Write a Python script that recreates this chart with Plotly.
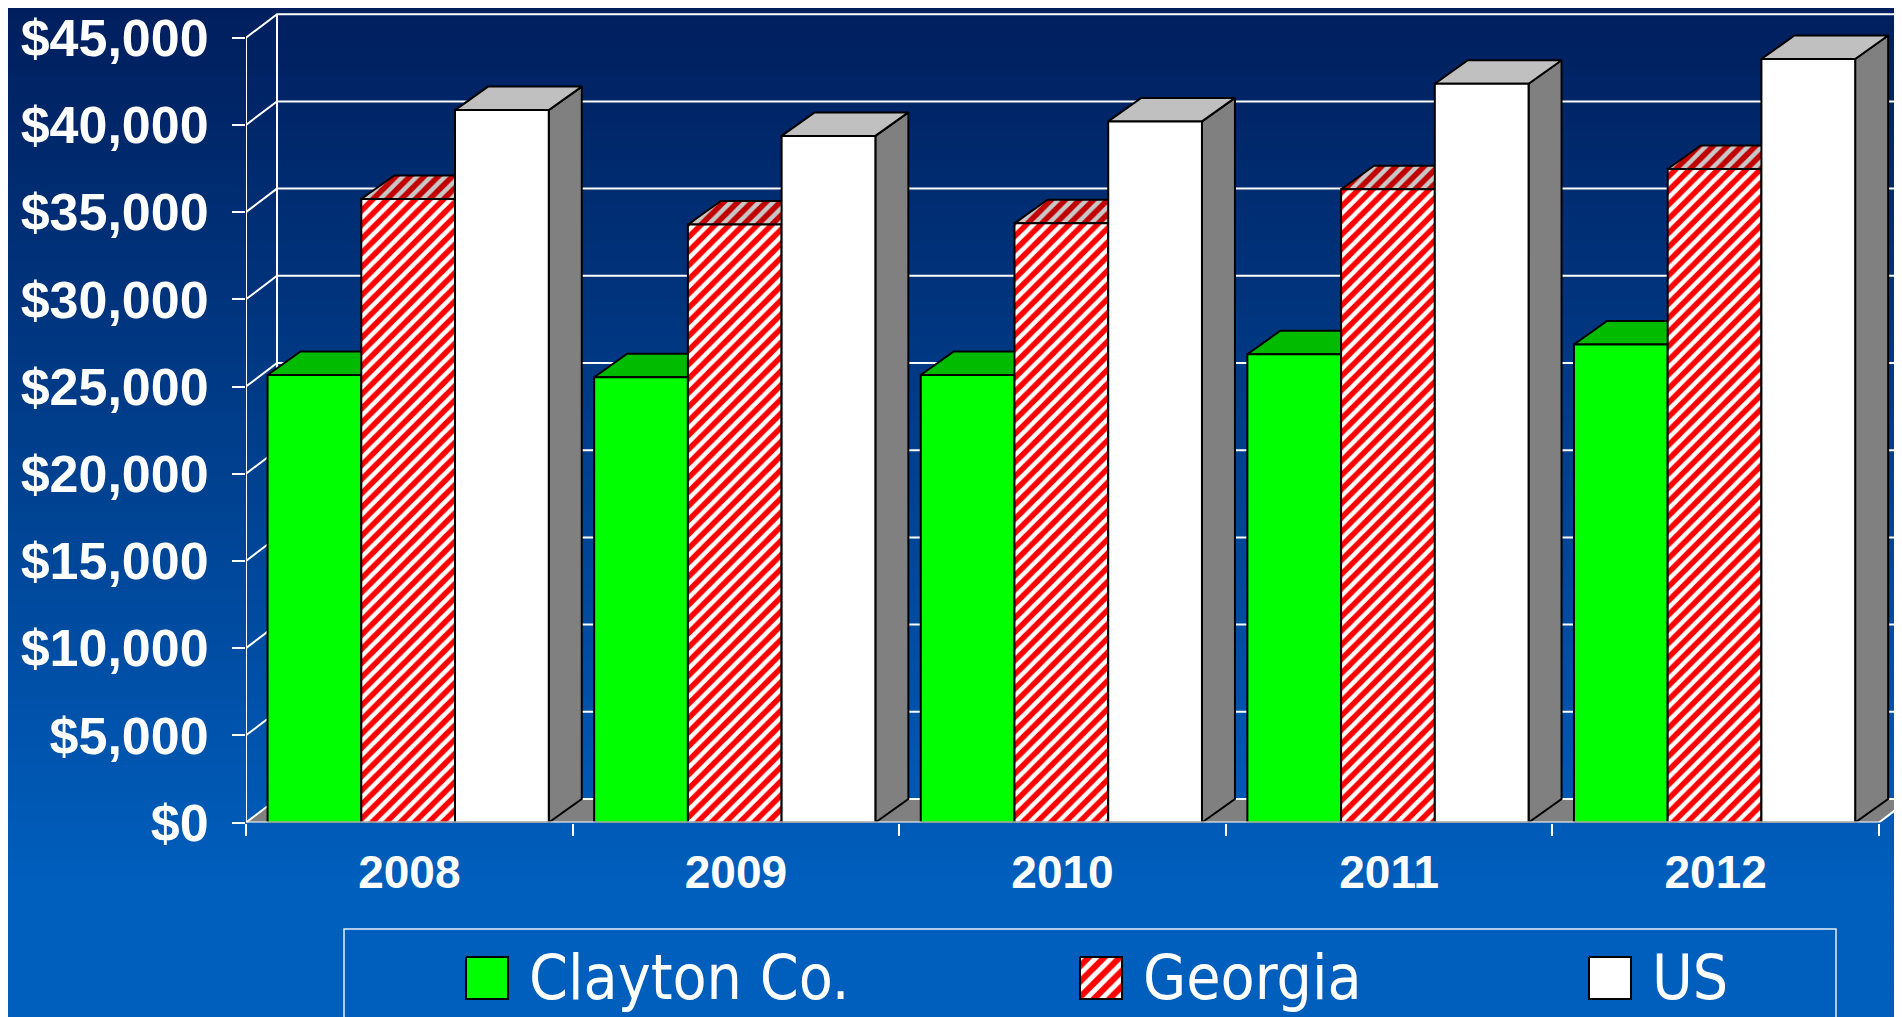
import plotly.graph_objects as go

# ---------------- data ----------------
years = ["2008", "2009", "2010", "2011", "2012"]
clayton = [25660, 25530, 25660, 26850, 27410]
georgia = [35750, 34290, 34360, 36310, 37470]
us = [40850, 39370, 40200, 42360, 43780]
series_names = ["Clayton Co.", "Georgia", "US"]
y_tick_vals = [0, 5000, 10000, 15000, 20000, 25000, 30000, 35000, 40000, 45000]
y_tick_text = ["$0", "$5,000", "$10,000", "$15,000", "$20,000",
               "$25,000", "$30,000", "$35,000", "$40,000", "$45,000"]

# ---------------- geometry / style ----------------
W, H = 1902, 1017
OFF = 8                # page body margin (figure starts 8px in)
X0_PX = 246.0          # viewport pixel of front category axis start
CAT_PX = 326.6         # pixels per category
Y0_PX = 822.5          # viewport pixel row of value 0
PX_PER_UNIT = 0.01744  # pixels per dollar
XMAX = (W - (X0_PX - OFF)) / CAT_PX
YMAX = (Y0_PX - OFF) / PX_PER_UNIT
DXW = 31 / CAT_PX      # wall depth (x)
DXB = 33 / CAT_PX      # bar depth (x)
DY = 23.5 / PX_PER_UNIT  # depth rise (value units)
BAR_OFF = 0.066
BAR_W = 0.287
NCAT = len(years)


def px_x(v):
    return (v - OFF) / W


def px_y(v):
    return 1 - (v - OFF) / H


FONT = "Liberation Sans, Arial, Helvetica, sans-serif"
NARROW = "Liberation Sans Narrow, Arial Narrow, DejaVu Sans Condensed, sans-serif"

styles = [
    dict(front="#00ff00", top="#00bb00", side="#008800", pat=None, tpat=None),
    dict(front="#ff0000", top="#c00000", side="#800000",
         pat=dict(shape="/", bgcolor="#ff0000", fgcolor="#ffffff", size=10, solidity=0.45, fillmode="replace"),
         tpat=dict(shape="/", bgcolor="#c00000", fgcolor="#c8c8c8", size=10, solidity=0.45, fillmode="replace")),
    dict(front="#ffffff", top="#c0c0c0", side="#808080", pat=None, tpat=None),
]

fig = go.Figure()

# ---------------- background gradient ----------------
top_c = (0, 30, 92)
bot_c = (0, 94, 188)
grad_end = 880
nb = 110
shapes = []
for k in range(nb):
    y_a = k * (H + OFF) / nb
    y_b = (k + 1) * (H + OFF) / nb + 1
    t = min(1.0, (y_a + (H + OFF) / nb / 2) / grad_end)
    c = tuple(int(round(top_c[j] + (bot_c[j] - top_c[j]) * t)) for j in range(3))
    shapes.append(dict(type="rect", xref="paper", yref="paper", layer="below",
                       x0=-0.01, x1=1.01, y0=px_y(y_b), y1=px_y(y_a),
                       line=dict(width=0), fillcolor="rgb(%d,%d,%d)" % c))

# ---------------- floor ----------------
fig.add_trace(go.Scatter(x=[0, NCAT, NCAT + DXW, DXW, 0], y=[0, 0, DY, DY, 0],
                         fill="toself", fillcolor="#808080", mode="none",
                         hoverinfo="skip", showlegend=False))

# ---------------- walls gridlines ----------------
gx, gy = [], []
for v in y_tick_vals:
    gx += [0, DXW, XMAX + 1, None]
    gy += [v, v + DY, v + DY, None]
gx += [DXW, DXW, None, 0, 0, None]
gy += [DY, y_tick_vals[-1] + DY, None, 0, y_tick_vals[-1], None]
fig.add_trace(go.Scatter(x=gx, y=gy, mode="lines", line=dict(color="white", width=2),
                         hoverinfo="skip", showlegend=False))

# ---------------- 3D bars ----------------
series = [clayton, georgia, us]
for i in range(NCAT):
    for s, vals in enumerate(series):
        st = styles[s]
        h = vals[i]
        x0 = i + BAR_OFF + s * BAR_W
        x1 = x0 + BAR_W
        # side
        fig.add_trace(go.Scatter(x=[x1, x1, x1 + DXB, x1 + DXB, x1], y=[0, h, h + DY, DY, 0],
                                 fill="toself", fillcolor=st["side"], mode="lines",
                                 line=dict(color="black", width=2),
                                 hoverinfo="skip", showlegend=False))
        # top
        kw = {}
        if st["tpat"]:
            kw["fillpattern"] = st["tpat"]
        fig.add_trace(go.Scatter(x=[x0, x1, x1 + DXB, x0 + DXB, x0], y=[h, h, h + DY, h + DY, h],
                                 fill="toself", fillcolor=st["top"], mode="lines",
                                 line=dict(color="black", width=2),
                                 hoverinfo="skip", showlegend=False, **kw))
        # front
        kw = {}
        if st["pat"]:
            kw["fillpattern"] = st["pat"]
        fig.add_trace(go.Scatter(x=[x0, x1, x1, x0, x0], y=[0, 0, h, h, 0],
                                 fill="toself", fillcolor=st["front"], mode="lines",
                                 line=dict(color="black", width=2),
                                 hoverinfo="skip", showlegend=False, **kw))

# ---------------- front axis line + floor right edge ----------------
fig.add_trace(go.Scatter(x=[0, NCAT, NCAT + DXW], y=[0, 0, DY], mode="lines",
                         line=dict(color="white", width=2),
                         hoverinfo="skip", showlegend=False))

# ---------------- legend (custom) ----------------
leg_sw_x = [466, 1080, 1589]
leg_txt_x = [527, 1141, 1650]
sw_y0, sw_y1 = 957, 999
for s in range(3):
    st = styles[s]
    kw = {}
    if st["pat"]:
        kw["fillpattern"] = dict(st["pat"], size=11)
    xa = leg_sw_x[s]
    xb = xa + 42
    fig.add_trace(go.Scatter(x=[xa, xb, xb, xa, xa], y=[sw_y0, sw_y0, sw_y1, sw_y1, sw_y0],
                             xaxis="x2", yaxis="y2", fill="toself", fillcolor=st["front"],
                             mode="lines", line=dict(color="black", width=2),
                             hoverinfo="skip", showlegend=False, **kw))

annotations = []
for s in range(3):
    annotations.append(dict(text=series_names[s], xref="paper", yref="paper",
                            x=px_x(leg_txt_x[s]), y=px_y(977), xanchor="left", yanchor="middle",
                            showarrow=False, font=dict(family=NARROW, size=62, color="white")))

shapes.append(dict(type="rect", xref="paper", yref="paper", layer="above",
                   x0=px_x(344), x1=px_x(1836), y0=-0.1, y1=px_y(929),
                   line=dict(color="#e8eef8", width=1.5), fillcolor="rgba(0,0,0,0)"))

fig.update_layout(
    width=W, height=H, autosize=False,
    margin=dict(l=0, r=0, t=0, b=0, pad=0, autoexpand=False),
    paper_bgcolor="rgb(0,94,188)", plot_bgcolor="rgba(0,0,0,0)",
    shapes=shapes, annotations=annotations, showlegend=False,
    xaxis=dict(domain=[px_x(X0_PX), 1], range=[0, XMAX], showgrid=False, zeroline=False,
               showline=False, tickvals=[i + 0.5 for i in range(NCAT)], ticktext=years,
               ticks="", ticklabelstandoff=18, automargin=False,
               tickfont=dict(family=FONT, size=46, color="white", weight="bold"),
               minor=dict(tickvals=list(range(NCAT + 1)), ticks="outside", ticklen=12,
                          tickcolor="white", tickwidth=2, showgrid=False),
               fixedrange=True),
    yaxis=dict(domain=[px_y(Y0_PX), 1], range=[0, YMAX], showgrid=False, zeroline=False,
               showline=False, tickvals=y_tick_vals, ticktext=y_tick_text,
               ticks="outside", ticklen=13, tickcolor="white", tickwidth=2,
               ticklabelstandoff=13, automargin=False,
               tickfont=dict(family=FONT, size=52, color="white", weight="bold"),
               fixedrange=True),
    xaxis2=dict(domain=[0, 1], range=[OFF, OFF + W], visible=False, anchor="y2", fixedrange=True),
    yaxis2=dict(domain=[0, 1], range=[OFF + H, OFF], visible=False, anchor="x2", fixedrange=True),
)

fig.write_html("out.html")
